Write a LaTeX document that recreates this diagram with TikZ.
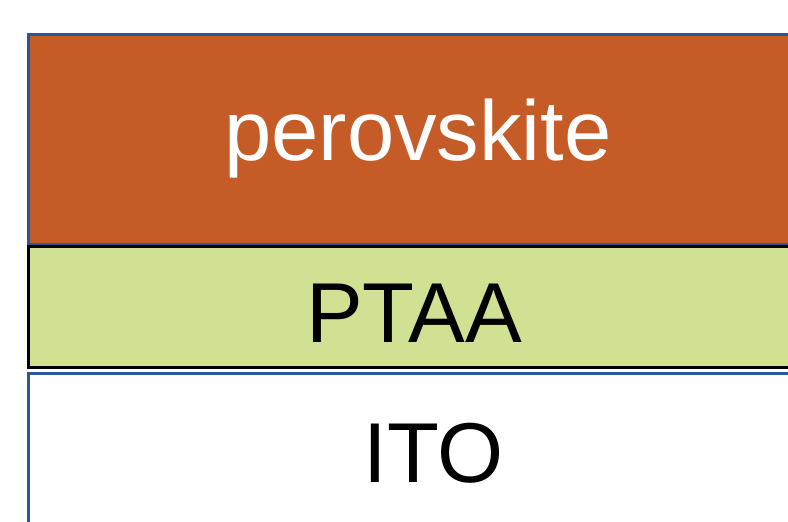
\documentclass[tikz,border=0pt]{standalone}
\usepackage{fontspec}
\setmainfont{Liberation Sans}
\usepackage{tikz}
\usetikzlibrary{positioning}

\definecolor{perovorange}{HTML}{C55C28}
\definecolor{ptaagreen}{HTML}{D0E193}
\definecolor{edgeblue}{HTML}{2F5597}

\begin{document}
\begin{tikzpicture}[
        x=1pt, y=-1pt,
        layerbox/.style={
            rectangle, anchor=north west, inner sep=0pt,
            minimum width=800pt
        },
        layertext/.style={
            anchor=base, inner sep=0pt,
            font=\fontsize{85}{96}\selectfont
        }
    ]
        \useasboundingbox (0,0) rectangle (788,522);
        \clip (0,0) rectangle (788,522);

        % stack of layers, top to bottom
        \node[layerbox, fill=perovorange, draw=edgeblue, line width=3pt,
              minimum height=210pt] (perov) at (27,33) {};
        \node[layerbox, fill=ptaagreen, draw=black, line width=3pt,
              minimum height=121pt] (ptaa) at (27,245) {};
        \node[layerbox, fill=white, draw=edgeblue, line width=3pt,
              minimum height=180pt] (ito) at (27,372) {};

        \node[layertext, text=white] (perovlabel) at (418,160) {perovskite};
        \node[layertext] (ptaalabel) at (414,342) {PTAA};
        \node[layertext] (itolabel) at (434,482) {ITO};
    \end{tikzpicture}
\end{document}
